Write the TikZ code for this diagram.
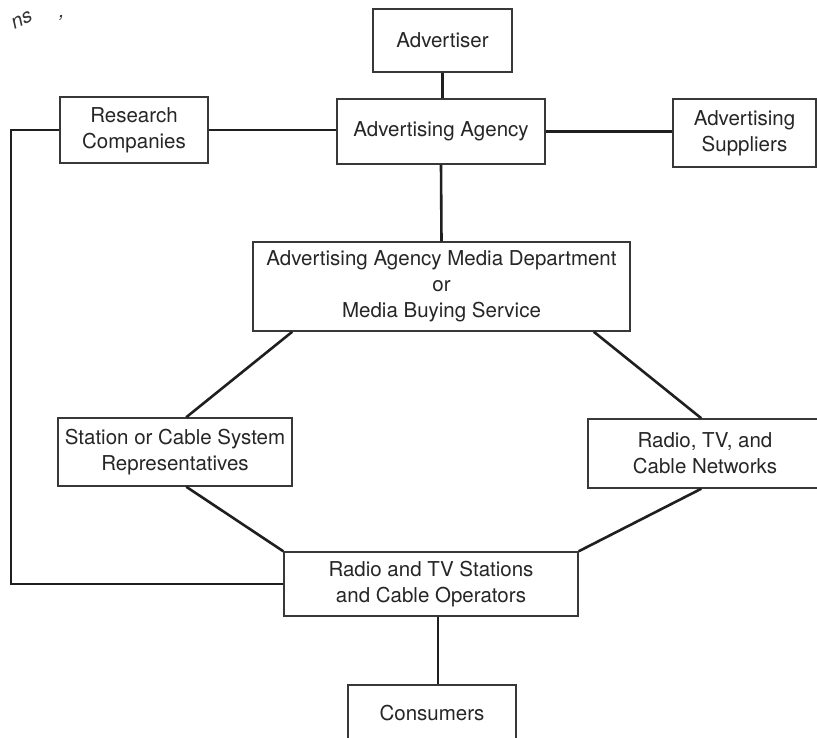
\documentclass[tikz,border=0pt]{standalone}
\usepackage{fontspec}
\setmainfont{TeX Gyre Heros}
\usetikzlibrary{calc}
\begin{document}
\begin{tikzpicture}[x=1pt,y=-1pt,
  box/.style={draw=black!78, line width=1.5pt, fill=white,
    font=\fontsize{20.5}{26}\selectfont, text=black!85, align=center, inner sep=0pt},
  link/.style={draw=black!88, line width=2.6pt},
  hand/.style={text=black!80, font=\fontsize{20}{20}\selectfont\itshape, inner sep=1pt}]
\useasboundingbox (0,0) rectangle (817,738);

\node[box, minimum width=139, minimum height=63] (adv) at (442.5,40.5) {Advertiser};
\node[box, minimum width=208, minimum height=65] (agency) at (441,131.5) {Advertising Agency};
\node[box, minimum width=148, minimum height=66] (research) at (134,130) {Research\\Companies};
\node[box, minimum width=143, minimum height=68] (suppliers) at (744.5,133) {Advertising\\Suppliers};
\node[box, minimum width=377, minimum height=89] (media) at (441.5,286.5)
  {Advertising Agency Media Department\\or\\Media Buying Service};
\node[box, minimum width=234, minimum height=68] (station) at (175,452) {Station or Cable System\\Representatives};
\node[box, minimum width=234, minimum height=69] (nets) at (705,453.5) {Radio, TV, and\\Cable Networks};
\node[box, minimum width=294, minimum height=64] (rs) at (431,584) {Radio and TV Stations\\and Cable Operators};
\node[box, minimum width=168, minimum height=56] (cons) at (432,713) {Consumers};

\node[hand, rotate=25] (hw1) at (22,20) {ns};
\node[hand] (hw2) at (62,18) {,};

\coordinate (lft) at (11,130);

\draw[link] (adv.south) -- (adv.south |- agency.north);
\draw[link] (agency.south) -- (media.north);
\draw[link] (research.east) -- (research.east -| agency.west);
\draw[link] (agency.east) -- (agency.east -| suppliers.west);
\draw[link] (research.west) -- (lft) |- (rs.west);
\draw[link] ([xshift=6pt]cons.north) -- ([xshift=6pt]cons.north |- rs.south);
\draw[link] ([xshift=40pt]media.south west) -- ([xshift=129pt]station.north west);
\draw[link] ([xshift=-37pt]media.south east) -- ([xshift=114pt]nets.north west);
\draw[link] ([xshift=129pt]station.south west) -- (rs.north west);
\draw[link] ([xshift=114pt]nets.south west) -- (rs.north east);
\end{tikzpicture}
\end{document}
